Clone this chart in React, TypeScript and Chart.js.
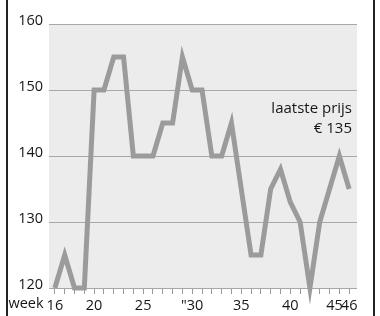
import React, { useEffect, useRef } from "react";
import { Chart, registerables } from "chart.js";

Chart.register(...registerables);

const weeks = [16, 17, 18, 19, 20, 21, 22, 23, 24, 25, 26, 27, 28, 29, 30, 31, 32, 33, 34, 35, 36, 37, 38, 39, 40, 41, 42, 43, 44, 45, 46];
const prices = [120, 125, 120, 120, 150, 150, 155, 155, 140, 140, 140, 145, 145, 155, 150, 150, 140, 140, 145, 135, 125, 125, 135, 138, 133, 130, 120, 130, 135, 140, 135];
const xTickLabels: Record<number, string> = { 16: "16", 20: "20", 25: "25", 30: "\"30", 35: "35", 40: "40", 45: "45\u2002\u2009", 46: "46" };
const yTicks = [120, 130, 140, 150, 160];
const axisWord = "week";
const noteLines = ["laatste prijs", "€ 135"];

const FONT = "'Open Sans', 'DejaVu Sans', sans-serif";
const TEXT = "#161616";

export default function App() {
  const ref = useRef<HTMLCanvasElement | null>(null);
  useEffect(() => {
    if (!ref.current) return;
    const decor = {
      id: "decor",
      beforeDraw(chart: any) {
        const { ctx, chartArea } = chart;
        ctx.save();
        ctx.fillStyle = "#ffffff";
        ctx.fillRect(0, 0, chart.width, chart.height);
        ctx.fillStyle = "#ececec";
        ctx.fillRect(chartArea.left, chartArea.top, chartArea.right - chartArea.left, chartArea.bottom - chartArea.top);
        ctx.restore();
      },
      afterDraw(chart: any) {
        const { ctx, chartArea, scales } = chart;
        ctx.save();
        ctx.fillStyle = "#222222";
        ctx.fillRect(6, 0, 2, chart.height);
        ctx.fillRect(373, 0, 2, chart.height);
        ctx.font = `14.5px ${FONT}`;
        ctx.fillStyle = TEXT;
        const x16 = scales.x.getPixelForValue(weeks[0]);
        const w16 = ctx.measureText(xTickLabels[weeks[0]]).width;
        ctx.textAlign = "right";
        ctx.textBaseline = "top";
        const ly = scales.x.top + 6 + 3;
        ctx.fillText(axisWord, x16 - w16 / 2 - 3, ly);
        ctx.font = `15px ${FONT}`;
        ctx.textBaseline = "alphabetic";
        ctx.fillText(noteLines[0], chartArea.right - 5, chartArea.top + 89);
        ctx.fillText(noteLines[1], chartArea.right - 5, chartArea.top + 109);
        ctx.restore();
      },
    };
    const chart = new Chart(ref.current, {
      type: "line",
      data: {
        datasets: [
          {
            data: weeks.map((w, i) => ({ x: w, y: prices[i] })),
            borderColor: "#9b9b9b",
            borderWidth: 5,
            pointRadius: 0,
            tension: 0,
            borderJoinStyle: "miter",
            borderCapStyle: "butt",
            clip: false as any,
          },
        ],
      },
      options: {
        animation: false,
        responsive: false,
        devicePixelRatio: 1,
        layout: { padding: { left: 8, right: 23, top: 24, bottom: 4 } },
        plugins: { legend: { display: false }, tooltip: { enabled: false } },
        scales: {
          x: {
            type: "linear",
            min: 15.4,
            max: 46.8,
            afterBuildTicks: (s: any) => {
              s.ticks = weeks.map((v) => ({ value: v }));
            },
            afterFit: (s: any) => {
              s.height = 24;
            },
            border: { display: false },
            grid: { drawOnChartArea: false, drawTicks: true, tickLength: 6, color: "#9a9a9a", lineWidth: 1 },
            ticks: {
              autoSkip: false,
              maxRotation: 0,
              padding: 3,
              color: TEXT,
              font: { family: FONT, size: 14.5 },
              callback: (v: any) => xTickLabels[v as number] ?? "",
            },
          },
          y: {
            min: 120,
            max: 160,
            afterBuildTicks: (s: any) => {
              s.ticks = yTicks.map((v) => ({ value: v }));
            },
            afterFit: (s: any) => {
              s.width = 41;
            },
            border: { display: false },
            grid: { drawTicks: false, color: "#a8a8a8", lineWidth: 1 },
            ticks: {
              padding: 6,
              labelOffset: -3,
              color: TEXT,
              font: { family: FONT, size: 14.5 },
            },
          },
        },
      },
      plugins: [decor],
    } as any);
    return () => chart.destroy();
  }, []);
  return (
    <div style={{ position: "fixed", left: 0, top: 0, width: 380, height: 316 }}>
      <canvas ref={ref} width={380} height={316} style={{ display: "block" }} />
    </div>
  );
}
